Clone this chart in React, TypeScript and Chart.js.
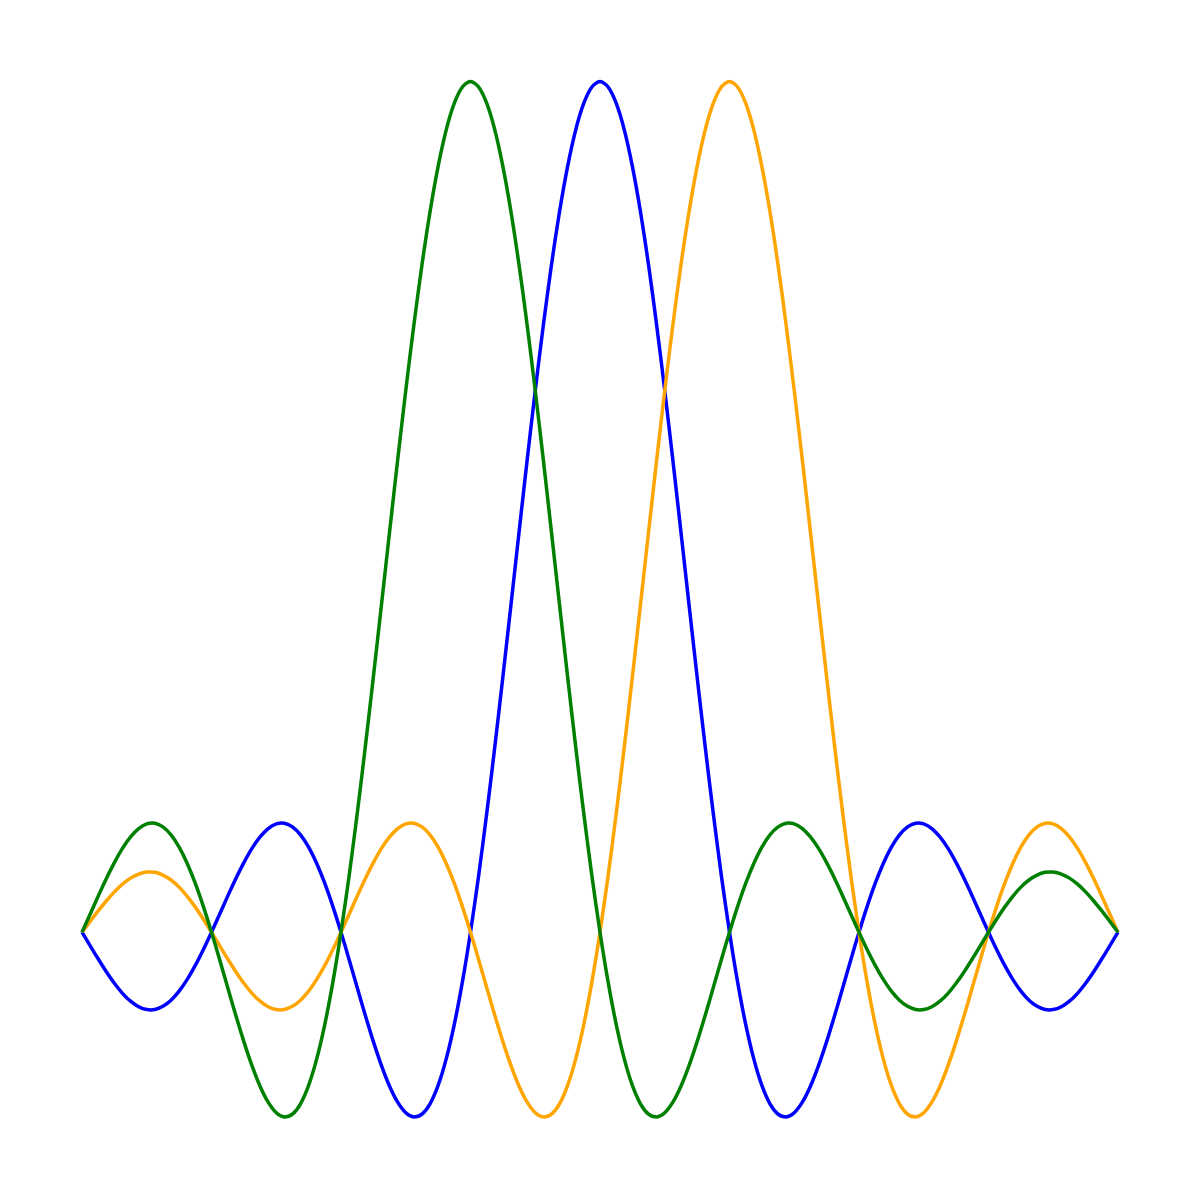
import React, { useEffect, useRef } from "react";
import { Chart, registerables } from "chart.js";

Chart.register(...registerables);

const xValues: number[] = [
  0, 0.0625, 0.125, 0.1875, 0.25, 0.3125, 0.375, 0.4375,
  0.5, 0.5625, 0.625, 0.6875, 0.75, 0.8125, 0.875, 0.9375,
  1, 1.0625, 1.125, 1.1875, 1.25, 1.3125, 1.375, 1.4375,
  1.5, 1.5625, 1.625, 1.6875, 1.75, 1.8125, 1.875, 1.9375,
  2, 2.0625, 2.125, 2.1875, 2.25, 2.3125, 2.375, 2.4375,
  2.5, 2.5625, 2.625, 2.6875, 2.75, 2.8125, 2.875, 2.9375,
  3, 3.0625, 3.125, 3.1875, 3.25, 3.3125, 3.375, 3.4375,
  3.5, 3.5625, 3.625, 3.6875, 3.75, 3.8125, 3.875, 3.9375,
  4, 4.0625, 4.125, 4.1875, 4.25, 4.3125, 4.375, 4.4375,
  4.5, 4.5625, 4.625, 4.6875, 4.75, 4.8125, 4.875, 4.9375,
  5, 5.0625, 5.125, 5.1875, 5.25, 5.3125, 5.375, 5.4375,
  5.5, 5.5625, 5.625, 5.6875, 5.75, 5.8125, 5.875, 5.9375,
  6, 6.0625, 6.125, 6.1875, 6.25, 6.3125, 6.375, 6.4375,
  6.5, 6.5625, 6.625, 6.6875, 6.75, 6.8125, 6.875, 6.9375,
  7, 7.0625, 7.125, 7.1875, 7.25, 7.3125, 7.375, 7.4375,
  7.5, 7.5625, 7.625, 7.6875, 7.75, 7.8125, 7.875, 7.9375,
  8,
];

const blueValues: number[] = [
  0, -0.0158, -0.0314, -0.0464, -0.06, -0.0718, -0.0811, -0.0876,
  -0.0909, -0.0908, -0.0871, -0.0799, -0.0693, -0.0555, -0.039, -0.0203,
  0, 0.0211, 0.0424, 0.0629, 0.0818, 0.0985, 0.112, 0.1218,
  0.1273, 0.1281, 0.1238, 0.1144, 0.1, 0.0808, 0.0573, 0.0301,
  0, -0.0321, -0.065, -0.0976, -0.1286, -0.1568, -0.181, -0.1998,
  -0.2122, -0.2172, -0.2139, -0.2017, -0.1801, -0.1489, -0.1083, -0.0584,
  0, 0.0662, 0.1392, 0.2177, 0.3001, 0.385, 0.4705, 0.555,
  0.6366, 0.7136, 0.7842, 0.8469, 0.9003, 0.9432, 0.9745, 0.9936,
  1,
  0.9936, 0.9745, 0.9432, 0.9003, 0.8469, 0.7842, 0.7136, 0.6366,
  0.555, 0.4705, 0.385, 0.3001, 0.2177, 0.1392, 0.0662, 0,
  -0.0584, -0.1083, -0.1489, -0.1801, -0.2017, -0.2139, -0.2172, -0.2122,
  -0.1998, -0.181, -0.1568, -0.1286, -0.0976, -0.065, -0.0321, 0,
  0.0301, 0.0573, 0.0808, 0.1, 0.1144, 0.1238, 0.1281, 0.1273,
  0.1218, 0.112, 0.0985, 0.0818, 0.0629, 0.0424, 0.0211, 0,
  -0.0203, -0.039, -0.0555, -0.0693, -0.0799, -0.0871, -0.0908, -0.0909,
  -0.0876, -0.0811, -0.0718, -0.06, -0.0464, -0.0314, -0.0158, 0,
];

const greenValues: number[] = [
  0, 0.0211, 0.0424, 0.0629, 0.0818, 0.0985, 0.112, 0.1218,
  0.1273, 0.1281, 0.1238, 0.1144, 0.1, 0.0808, 0.0573, 0.0301,
  0, -0.0321, -0.065, -0.0976, -0.1286, -0.1568, -0.181, -0.1998,
  -0.2122, -0.2172, -0.2139, -0.2017, -0.1801, -0.1489, -0.1083, -0.0584,
  0, 0.0662, 0.1392, 0.2177, 0.3001, 0.385, 0.4705, 0.555,
  0.6366, 0.7136, 0.7842, 0.8469, 0.9003, 0.9432, 0.9745, 0.9936,
  1,
  0.9936, 0.9745, 0.9432, 0.9003, 0.8469, 0.7842, 0.7136, 0.6366,
  0.555, 0.4705, 0.385, 0.3001, 0.2177, 0.1392, 0.0662, 0,
  -0.0584, -0.1083, -0.1489, -0.1801, -0.2017, -0.2139, -0.2172, -0.2122,
  -0.1998, -0.181, -0.1568, -0.1286, -0.0976, -0.065, -0.0321, 0,
  0.0301, 0.0573, 0.0808, 0.1, 0.1144, 0.1238, 0.1281, 0.1273,
  0.1218, 0.112, 0.0985, 0.0818, 0.0629, 0.0424, 0.0211, 0,
  -0.0203, -0.039, -0.0555, -0.0693, -0.0799, -0.0871, -0.0908, -0.0909,
  -0.0876, -0.0811, -0.0718, -0.06, -0.0464, -0.0314, -0.0158, 0,
  0.0153, 0.0295, 0.0422, 0.053, 0.0614, 0.0672, 0.0704, 0.0707,
  0.0684, 0.0636, 0.0565, 0.0474, 0.0367, 0.025, 0.0126, 0,
];

const orangeValues: number[] = [
  0, 0.0126, 0.025, 0.0367, 0.0474, 0.0565, 0.0636, 0.0684,
  0.0707, 0.0704, 0.0672, 0.0614, 0.053, 0.0422, 0.0295, 0.0153,
  0, -0.0158, -0.0314, -0.0464, -0.06, -0.0718, -0.0811, -0.0876,
  -0.0909, -0.0908, -0.0871, -0.0799, -0.0693, -0.0555, -0.039, -0.0203,
  0, 0.0211, 0.0424, 0.0629, 0.0818, 0.0985, 0.112, 0.1218,
  0.1273, 0.1281, 0.1238, 0.1144, 0.1, 0.0808, 0.0573, 0.0301,
  0, -0.0321, -0.065, -0.0976, -0.1286, -0.1568, -0.181, -0.1998,
  -0.2122, -0.2172, -0.2139, -0.2017, -0.1801, -0.1489, -0.1083, -0.0584,
  0, 0.0662, 0.1392, 0.2177, 0.3001, 0.385, 0.4705, 0.555,
  0.6366, 0.7136, 0.7842, 0.8469, 0.9003, 0.9432, 0.9745, 0.9936,
  1,
  0.9936, 0.9745, 0.9432, 0.9003, 0.8469, 0.7842, 0.7136, 0.6366,
  0.555, 0.4705, 0.385, 0.3001, 0.2177, 0.1392, 0.0662, 0,
  -0.0584, -0.1083, -0.1489, -0.1801, -0.2017, -0.2139, -0.2172, -0.2122,
  -0.1998, -0.181, -0.1568, -0.1286, -0.0976, -0.065, -0.0321, 0,
  0.0301, 0.0573, 0.0808, 0.1, 0.1144, 0.1238, 0.1281, 0.1273,
  0.1218, 0.112, 0.0985, 0.0818, 0.0629, 0.0424, 0.0211, 0,
];

const toPoints = (ys: number[]) => ys.map((y, i) => ({ x: xValues[i], y }));

export default function App() {
  const ref = useRef<HTMLCanvasElement | null>(null);

  useEffect(() => {
    if (!ref.current) return;
    const common = {
      fill: false,
      pointRadius: 0,
      borderWidth: 3.5,
      tension: 0.3,
      clip: false as any,
    };
    const chart = new Chart(ref.current, {
      type: "line",
      data: {
        datasets: [
          { ...common, label: "blue", data: toPoints(blueValues), borderColor: "#0000ff", order: 3 },
          { ...common, label: "orange", data: toPoints(orangeValues), borderColor: "#ffa500", order: 2 },
          { ...common, label: "green", data: toPoints(greenValues), borderColor: "#008000", order: 1 },
        ],
      },
      options: {
        animation: false,
        responsive: false,
        devicePixelRatio: 1,
        layout: { padding: { left: 82, right: 82, top: 81.5, bottom: 83 } },
        plugins: { legend: { display: false }, tooltip: { enabled: false } },
        scales: {
          x: { type: "linear", min: 0, max: 8, display: false },
          y: { type: "linear", min: -0.2172, max: 1, display: false },
        },
      },
    });
    return () => chart.destroy();
  }, []);

  return (
    <div style={{ position: "fixed", left: 0, top: 0, width: 1200, height: 1200, background: "#fff" }}>
      <canvas ref={ref} width={1200} height={1200} style={{ width: 1200, height: 1200 }} />
    </div>
  );
}
